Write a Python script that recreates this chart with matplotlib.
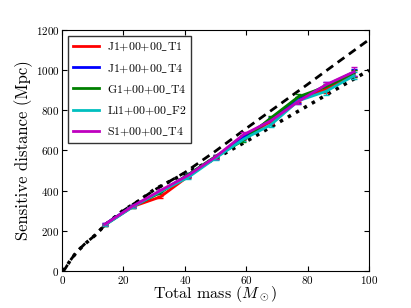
#!/usr/bin/env python3

import matplotlib
matplotlib.use("Agg")
import matplotlib.pyplot as plt

plt.rcParams["font.family"] = "serif"
plt.rcParams["font.serif"] = ["cmr10"]
plt.rcParams["mathtext.fontset"] = "cm"
plt.rcParams["axes.formatter.use_mathtext"] = True

# total mass of the injections
mass = [14, 23, 32, 41, 50, 59, 68, 77, 86, 95]

labels = [r"J1+00+00$\_$T1", r"J1+00+00$\_$T4", r"G1+00+00$\_$T4",
          r"Ll1+00+00$\_$F2", r"S1+00+00$\_$T4"]
colors = ["#ff0000", "#0000ff", "#008000", "#00bfbf", "#bf00bf"]

dist_T1 = [230, 320, 368, 470, 565, 660, 745, 855, 905, 985]
dist_T4 = [232, 323, 392, 478, 568, 665, 755, 852, 925, 990]
dist_G1 = [230, 320, 390, 478, 570, 650, 762, 868, 918, 985]
dist_Ll1 = [228, 318, 395, 465, 562, 655, 728, 848, 895, 972]
dist_S1 = [232, 322, 400, 475, 568, 678, 748, 845, 928, 992]

err_T1 = [5, 6, 7, 8, 9, 10, 12, 14, 16, 18]
err_T4 = [5, 6, 7, 8, 9, 10, 12, 14, 16, 18]
err_G1 = [5, 6, 7, 8, 9, 10, 12, 14, 16, 18]
err_Ll1 = [5, 6, 7, 8, 9, 10, 12, 14, 16, 18]
err_S1 = [5, 6, 7, 8, 9, 12, 12, 14, 16, 22]

# reference curves
ref_mass = [0, 1, 2.6, 4.7, 7.4, 10.6, 14, 20, 25, 30, 40, 50, 60, 70, 80, 90, 100]
dashed_dist = [0, 10, 50, 93, 134, 175, 228, 300, 350, 402, 490, 597, 710, 820, 930, 1042, 1153]
dotted_dist = [0, 10, 50, 92, 133, 175, 228, 302, 348, 405, 485, 560, 645, 735, 823, 912, 1000]


def main():
    fig = plt.figure(figsize=(4.11, 3.08), dpi=100)
    ax = fig.add_axes([0.151, 0.121, 0.747, 0.781])

    ax.plot(ref_mass, dashed_dist, "k--", lw=2, dashes=(3, 2))
    ax.plot(ref_mass, dotted_dist, "k:", lw=2.5)

    series = [dist_T1, dist_T4, dist_G1, dist_Ll1, dist_S1]
    errors = [err_T1, err_T4, err_G1, err_Ll1, err_S1]
    for y, e, c, lab in zip(series, errors, colors, labels):
        ax.errorbar(mass, y, yerr=e, color=c, lw=2, elinewidth=1,
                    capsize=2)
        ax.plot([], [], color=c, lw=2, label=lab)

    ax.set_xlim(0, 100)
    ax.set_ylim(0, 1200)
    ax.set_xticks(range(0, 101, 20))
    ax.set_yticks(range(0, 1201, 200))
    ax.tick_params(direction="in", top=True, right=True, labelsize=8, pad=2)
    ax.set_xlabel(r"Total mass ($M_\odot$)", fontsize=11.5, labelpad=-1)
    ax.set_ylabel("Sensitive distance (Mpc)", fontsize=12, labelpad=2)

    leg = ax.legend(loc="upper left", fontsize=8.5, handlelength=2.2,
                    fancybox=False, borderaxespad=0.5, labelspacing=0.75,
                    handletextpad=0.7)
    leg.get_frame().set_edgecolor("black")
    leg.get_frame().set_linewidth(1)

    fig.savefig("out.png", dpi=100)


if __name__ == "__main__":
    main()
